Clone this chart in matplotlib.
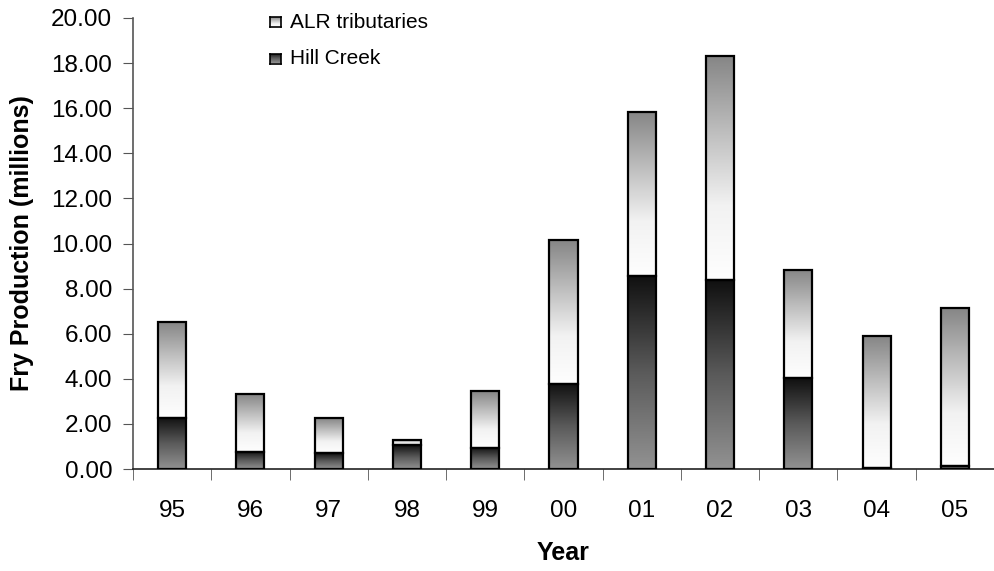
import matplotlib.pyplot as plt
import numpy as np
from matplotlib.colors import LinearSegmentedColormap

plt.rcParams['font.family'] = ['Liberation Sans', 'DejaVu Sans']

years = ['95', '96', '97', '98', '99', '00', '01', '02', '03', '04', '05']
hill_creek = [2.28, 0.77, 0.70, 1.05, 0.95, 3.78, 8.56, 8.38, 4.02, 0.05, 0.15]
total = [6.53, 3.34, 2.25, 1.30, 3.45, 10.15, 15.82, 18.30, 8.82, 5.90, 7.15]
alr_trib = [t - h for t, h in zip(total, hill_creek)]

# gradients: row 0 = bottom of segment
alr_cmap = LinearSegmentedColormap.from_list('alr', ['#fefefe', '#f2f2f2', '#bdbdbd', '#868686'])
hill_cmap = LinearSegmentedColormap.from_list('hill', ['#929292', '#5a5a5a', '#101010'])
grad = np.linspace(0, 1, 256).reshape(-1, 1)

fig = plt.figure(figsize=(9.95, 5.71), dpi=100)
ax = fig.add_axes([133/995, 102/571, 861/995, 451/571])

w = 0.36
x = np.arange(len(years))
for i in x:
    segs = [(0, hill_creek[i], hill_cmap), (hill_creek[i], hill_creek[i] + alr_trib[i], alr_cmap)]
    for b, t, cm in segs:
        ax.imshow(grad, cmap=cm, origin='lower', aspect='auto',
                  extent=[i - w/2, i + w/2, b, t], zorder=2, interpolation='bilinear')
ax.bar(x, hill_creek, w, fill=False, edgecolor='black', linewidth=1.6, zorder=3)
ax.bar(x, alr_trib, w, bottom=hill_creek, fill=False, edgecolor='black', linewidth=1.6, zorder=3)

ax.set_xlim(-0.5, 10.5)
ax.set_ylim(0, 20)
ax.set_yticks(np.arange(0, 21, 2))
ax.set_yticklabels(['%.2f' % v for v in np.arange(0, 21, 2)], fontsize=17.5)
ax.set_xticks(x)
ax.set_xticklabels(years, fontsize=17.5)
ax.tick_params(axis='x', which='major', length=0, pad=22)
ax.set_xticks(np.arange(-0.5, 11, 1), minor=True)
ax.tick_params(axis='x', which='minor', length=8, color='#555555')
ax.tick_params(axis='y', length=7, color='#555555', pad=8)
for s in ['top', 'right']:
    ax.spines[s].set_visible(False)
ax.spines['left'].set_color('#555555')
ax.spines['bottom'].set_color('#222222')
ax.spines['left'].set_linewidth(1.2)
ax.spines['bottom'].set_linewidth(1.2)

ax.set_ylabel('Fry Production (millions)', fontsize=18, fontweight='bold', labelpad=12)
ax.set_xlabel('Year', fontsize=18, fontweight='bold', labelpad=14)

# legend with gradient squares
for yc, cm, lab in [(22, alr_cmap, 'ALR tributaries'), (58.5, hill_cmap, 'Hill Creek')]:
    lax = fig.add_axes([270/995, 1 - (yc + 5)/571, 11/995, 10/571])
    lax.imshow(grad, cmap=cm, origin='lower', aspect='auto')
    lax.set_xticks([])
    lax.set_yticks([])
    for sp in lax.spines.values():
        sp.set_linewidth(1.2)
    fig.text(290/995, 1 - yc/571, lab, fontsize=15, va='center', ha='left')

fig.savefig('out.png', dpi=100)
